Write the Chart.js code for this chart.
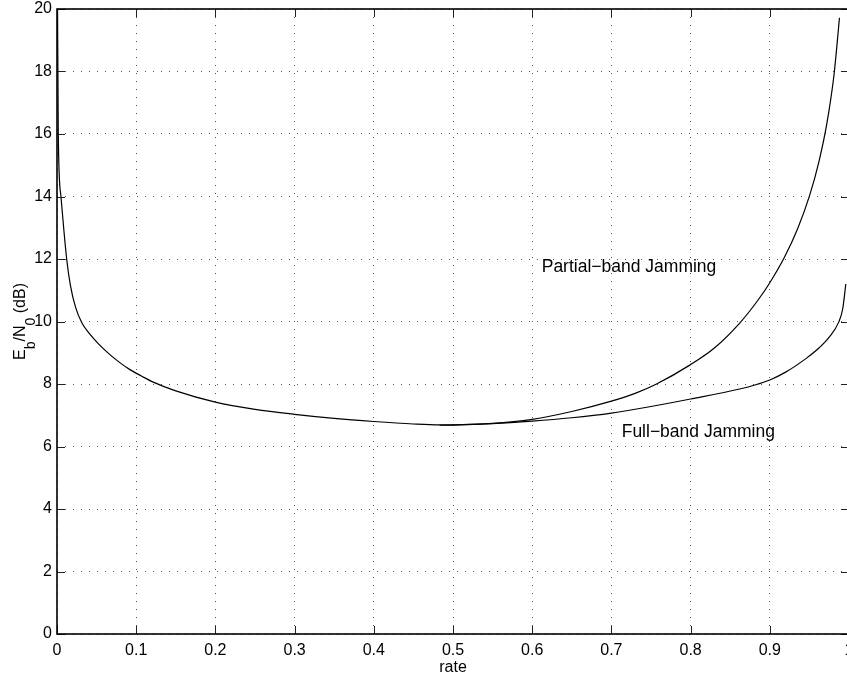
<!DOCTYPE html>
<html>
<head>
<meta charset="utf-8">
<script src="https://cdn.jsdelivr.net/npm/chart.js@4.4.1/dist/chart.umd.min.js"></script>
<style>
    html, body { margin: 0; padding: 0; background: #fff; overflow: hidden; }
    #wrap { width: 900px; height: 679px; }
</style>
</head>
<body>
<div id="wrap"><canvas id="rateChart" width="900" height="679"></canvas></div>
<script>
// values
const partialRate = [0.0005, 0.0016, 0.005, 0.0122, 0.017, 0.0235, 0.0315, 0.041, 0.0521, 0.065, 0.0785,
    0.0921, 0.107, 0.1215, 0.15, 0.2, 0.25, 0.3, 0.35, 0.4, 0.45, 0.483,
    0.55, 0.6, 0.65, 0.7, 0.73, 0.757, 0.8, 0.83, 0.862, 0.885, 0.9, 0.918, 0.935, 0.95, 0.962, 0.972, 0.981, 0.988];
const partialEbNo = [21, 16, 14, 12, 11.15, 10.45, 9.95, 9.61, 9.29, 8.98, 8.7,
    8.46, 8.25, 8.06, 7.78, 7.42, 7.19, 7.03, 6.9, 6.8, 6.72, 6.69,
    6.74, 6.87, 7.12, 7.45, 7.7, 8.0, 8.62, 9.15, 9.95, 10.68, 11.24, 12.03, 12.96, 14.01, 15.11, 16.33, 17.88, 19.72];

const fullRate = [0.483, 0.55, 0.6, 0.65, 0.7, 0.75, 0.8, 0.862, 0.88, 0.9, 0.92, 0.946, 0.962, 0.975, 0.987, 0.992, 0.996];
const fullEbNo = [6.68, 6.73, 6.81, 6.92, 7.07, 7.28, 7.52, 7.84, 7.96, 8.13, 8.38, 8.82, 9.15, 9.5, 9.98, 10.4, 11.2];

const xTicks = [0, 0.1, 0.2, 0.3, 0.4, 0.5, 0.6, 0.7, 0.8, 0.9, 1];
const xTickLabels = ['0', '0.1', '0.2', '0.3', '0.4', '0.5', '0.6', '0.7', '0.8', '0.9', '1'];
const yTicks = [0, 2, 4, 6, 8, 10, 12, 14, 16, 18, 20];
const yTickLabels = ['0', '2', '4', '6', '8', '10', '12', '14', '16', '18', '20'];

// text placed next to the curves (data coordinates)
const curveNotes = [
    { text: 'Partial\u2212band Jamming', rate: 0.612, ebno: 11.74 },
    { text: 'Full\u2212band Jamming', rate: 0.713, ebno: 6.46 }
];

const FONT = '"Liberation Sans", Arial, Helvetica, sans-serif';

function toPoints(xs, ys) {
    return xs.map((x, i) => ({ x: x, y: ys[i] }));
}

// box, inward tick marks, curve labels and the subscripted y title
const framePlugin = {
    id: 'frame',
    afterDraw(chart) {
        const { ctx, chartArea: a, scales: { x, y } } = chart;
        ctx.save();
        ctx.strokeStyle = '#222';
        ctx.lineWidth = 1;
        ctx.beginPath();
        xTicks.forEach(v => {
            const px = Math.round(x.getPixelForValue(v)) + 0.5;
            ctx.moveTo(px, a.bottom); ctx.lineTo(px, a.bottom - 8);
            ctx.moveTo(px, a.top); ctx.lineTo(px, a.top + 8);
        });
        yTicks.forEach(v => {
            const py = Math.round(y.getPixelForValue(v)) + 0.5;
            ctx.moveTo(a.left, py); ctx.lineTo(a.left + 8, py);
            ctx.moveTo(a.right, py); ctx.lineTo(a.right - 8, py);
        });
        ctx.stroke();

        ctx.strokeStyle = '#000';
        ctx.lineWidth = 1.6;
        ctx.strokeRect(a.left, a.top, a.right - a.left, a.bottom - a.top);

        ctx.fillStyle = '#000';
        ctx.font = '17.5px ' + FONT;
        ctx.textAlign = 'left';
        ctx.textBaseline = 'middle';
        curveNotes.forEach(n => {
            ctx.fillText(n.text, x.getPixelForValue(n.rate), y.getPixelForValue(n.ebno));
        });

        // E_b/N_0 (dB), rotated
        const parts = [['E', false], ['b', true], ['/N', false], ['0', true], [' (dB)', false]];
        const mainFont = '16px ' + FONT;
        const subFont = '14px ' + FONT;
        let total = 0;
        parts.forEach(p => {
            ctx.font = p[1] ? subFont : mainFont;
            total += ctx.measureText(p[0]).width;
        });
        ctx.translate(25, (a.top + a.bottom) / 2);
        ctx.rotate(-Math.PI / 2);
        ctx.textBaseline = 'alphabetic';
        let cx = -total / 2;
        parts.forEach(p => {
            ctx.font = p[1] ? subFont : mainFont;
            ctx.fillText(p[0], cx, p[1] ? 10 : 0);
            cx += ctx.measureText(p[0]).width;
        });
        ctx.restore();
    }
};

const ctx = document.getElementById('rateChart').getContext('2d');
new Chart(ctx, {
    type: 'scatter',
    data: {
        datasets: [
            {
                label: 'Partial-band Jamming',
                data: toPoints(partialRate, partialEbNo),
                showLine: true,
                borderColor: '#000',
                borderWidth: 1.2,
                pointRadius: 0,
                cubicInterpolationMode: 'monotone'
            },
            {
                label: 'Full-band Jamming',
                data: toPoints(fullRate, fullEbNo),
                showLine: true,
                borderColor: '#000',
                borderWidth: 1.2,
                pointRadius: 0,
                cubicInterpolationMode: 'monotone'
            }
        ]
    },
    options: {
        responsive: false,
        animation: false,
        layout: { padding: { top: 9, right: 51, bottom: 0, left: 0 } },
        plugins: {
            legend: { display: false },
            tooltip: { enabled: false }
        },
        scales: {
            x: {
                type: 'linear',
                min: 0,
                max: 1,
                afterBuildTicks: s => { s.ticks = xTicks.map(v => ({ value: v })); },
                afterFit: s => { s.height = 45; s.paddingLeft = 0; s.paddingRight = 0; },
                ticks: {
                    callback: (v, i) => xTickLabels[i],
                    color: '#000',
                    padding: 7,
                    maxRotation: 0,
                    font: { family: FONT, size: 16 }
                },
                grid: { color: '#555', lineWidth: 1, drawTicks: false },
                border: { display: false, dash: [1, 7] },
                title: {
                    display: true,
                    text: 'rate',
                    color: '#000',
                    font: { family: FONT, size: 16 },
                    padding: { top: 0, bottom: 2 }
                }
            },
            y: {
                type: 'linear',
                min: 0,
                max: 20,
                afterBuildTicks: s => { s.ticks = yTicks.map(v => ({ value: v })); },
                afterFit: s => { s.width = 57; s.paddingTop = 0; s.paddingBottom = 0; },
                ticks: {
                    callback: (v, i) => yTickLabels[i],
                    color: '#000',
                    padding: 5,
                    font: { family: FONT, size: 16 }
                },
                grid: { color: '#555', lineWidth: 1, drawTicks: false },
                border: { display: false, dash: [1, 7] }
            }
        }
    },
    plugins: [framePlugin]
});
</script>
</body>
</html>
